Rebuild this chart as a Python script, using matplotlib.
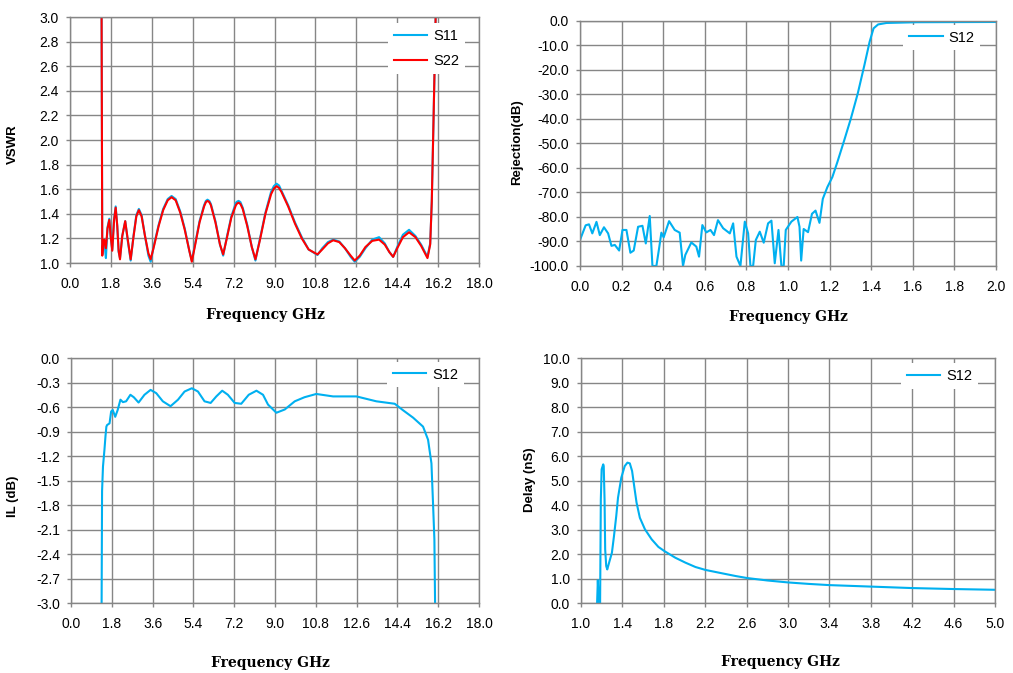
import numpy as np
import matplotlib
matplotlib.use("Agg")
import matplotlib.pyplot as plt

plt.rcParams['axes.unicode_minus'] = False

# VSWR (top left)
f_vswr = [1.39, 1.42, 1.46, 1.51, 1.55, 1.58, 1.65, 1.73, 1.79, 1.86,
          1.94, 2.01, 2.08, 2.14, 2.20, 2.30, 2.43, 2.55, 2.67, 2.80,
          2.92, 3.03, 3.15, 3.30, 3.45, 3.55, 3.70, 3.90, 4.10, 4.30,
          4.47, 4.65, 4.85, 5.05, 5.25, 5.36, 5.50, 5.70, 5.90, 5.98,
          6.05, 6.13, 6.20, 6.40, 6.60, 6.74, 6.90, 7.10, 7.30, 7.36,
          7.42, 7.50, 7.60, 7.80, 8.00, 8.16, 8.35, 8.60, 8.85, 8.97,
          9.09, 9.20, 9.30, 9.60, 9.90, 10.20, 10.50, 10.89, 11.10, 11.35,
          11.58, 11.85, 12.10, 12.35, 12.53, 12.75, 13.00, 13.30, 13.60, 13.85,
          14.05, 14.22, 14.40, 14.65, 14.92, 15.20, 15.45, 15.73, 15.85, 15.92,
          16.00, 16.09]
s11 = [3.00, 1.07, 1.16, 1.19, 1.10, 1.04, 1.29, 1.36, 1.21, 1.11,
       1.36, 1.46, 1.30, 1.09, 1.04, 1.22, 1.34, 1.17, 1.02, 1.23,
       1.39, 1.44, 1.39, 1.22, 1.06, 1.01, 1.15, 1.31, 1.44, 1.52,
       1.545, 1.52, 1.42, 1.28, 1.10, 1.02, 1.15, 1.34, 1.47, 1.505,
       1.515, 1.505, 1.48, 1.34, 1.15, 1.06, 1.21, 1.38, 1.49, 1.50,
       1.505, 1.495, 1.45, 1.31, 1.13, 1.02, 1.19, 1.41, 1.58, 1.625,
       1.645, 1.63, 1.59, 1.47, 1.33, 1.21, 1.11, 1.065, 1.12, 1.17,
       1.19, 1.175, 1.12, 1.05, 1.01, 1.05, 1.12, 1.19, 1.21, 1.16,
       1.09, 1.05, 1.13, 1.23, 1.27, 1.22, 1.15, 1.05, 1.16, 1.50,
       2.19, 3.00]
s22 = [3.00, 1.06, 1.17, 1.19, 1.14, 1.12, 1.28, 1.35, 1.22, 1.10,
       1.35, 1.45, 1.30, 1.10, 1.03, 1.22, 1.34, 1.18, 1.03, 1.22,
       1.38, 1.43, 1.38, 1.22, 1.08, 1.03, 1.14, 1.30, 1.43, 1.51,
       1.535, 1.51, 1.41, 1.27, 1.10, 1.01, 1.14, 1.33, 1.46, 1.495,
       1.505, 1.495, 1.47, 1.33, 1.15, 1.07, 1.20, 1.37, 1.47, 1.485,
       1.49, 1.48, 1.44, 1.30, 1.13, 1.03, 1.18, 1.40, 1.56, 1.605,
       1.625, 1.61, 1.58, 1.46, 1.32, 1.20, 1.11, 1.07, 1.11, 1.16,
       1.185, 1.17, 1.12, 1.06, 1.02, 1.06, 1.13, 1.18, 1.19, 1.15,
       1.09, 1.05, 1.12, 1.21, 1.25, 1.21, 1.14, 1.04, 1.15, 1.50,
       2.19, 3.00]

# Rejection (top right)
f_rej = [0.000, 0.006, 0.027, 0.043, 0.059, 0.079, 0.095, 0.115, 0.135, 0.151,
         0.167, 0.188, 0.204, 0.223, 0.242, 0.258, 0.279, 0.300, 0.316, 0.335,
         0.348, 0.367, 0.380, 0.391, 0.402, 0.428, 0.455, 0.479, 0.495, 0.506,
         0.535, 0.559, 0.572, 0.588, 0.607, 0.627, 0.644, 0.663, 0.688, 0.720,
         0.736, 0.752, 0.771, 0.792, 0.808, 0.819, 0.832, 0.845, 0.864, 0.883,
         0.904, 0.920, 0.936, 0.954, 0.968, 0.979, 0.989, 1.016, 1.045, 1.055,
         1.063, 1.075, 1.096, 1.115, 1.132, 1.151, 1.167, 1.189, 1.213, 1.237,
         1.270, 1.302, 1.335, 1.367, 1.392, 1.411, 1.433, 1.473, 1.620, 2.000]
rej = [-89.4, -88.0, -83.4, -83.0, -86.7, -82.0, -87.4, -84.2, -86.7, -91.8,
       -91.4, -93.7, -85.3, -85.3, -94.6, -93.7, -84.0, -83.6, -90.8, -79.6,
       -100.0, -100.0, -92.8, -86.4, -88.3, -81.7, -85.3, -86.4, -100.0, -95.5,
       -90.4, -92.1, -96.2, -83.3, -86.3, -85.3, -87.4, -81.3, -84.6, -86.7,
       -82.6, -96.2, -100.0, -81.9, -86.7, -100.0, -100.0, -89.4, -86.0, -90.5,
       -82.6, -81.5, -98.9, -85.3, -100.0, -100.0, -85.3, -81.9, -80.0, -84.0,
       -97.8, -84.9, -86.2, -78.7, -77.4, -82.4, -72.6, -67.8, -63.7, -57.6,
       -48.7, -39.8, -29.6, -18.0, -8.5, -3.0, -1.4, -0.8, -0.5, -0.4]

# Insertion loss (bottom left)
f_il = [1.35, 1.37, 1.41, 1.476, 1.52, 1.56, 1.594, 1.70, 1.77, 1.84,
        1.95, 2.06, 2.18, 2.29, 2.43, 2.62, 2.77, 2.98, 3.24, 3.51,
        3.76, 4.05, 4.39, 4.72, 5.01, 5.33, 5.60, 5.89, 6.16, 6.41,
        6.67, 6.92, 7.22, 7.51, 7.84, 8.18, 8.47, 8.69, 9.06, 9.43,
        9.87, 10.30, 10.82, 11.56, 12.59, 13.47, 14.28, 14.65, 15.09, 15.53,
        15.75, 15.90, 15.97, 16.03, 16.06]
il = [-3.00, -1.63, -1.33, -1.12, -0.96, -0.84, -0.82, -0.80, -0.655, -0.635,
      -0.72, -0.635, -0.51, -0.54, -0.53, -0.45, -0.48, -0.545, -0.45, -0.39,
      -0.43, -0.53, -0.59, -0.51, -0.41, -0.37, -0.41, -0.53, -0.55, -0.47,
      -0.40, -0.45, -0.55, -0.56, -0.45, -0.40, -0.45, -0.57, -0.67, -0.63,
      -0.53, -0.48, -0.44, -0.47, -0.47, -0.53, -0.56, -0.64, -0.73, -0.84,
      -1.00, -1.29, -1.78, -2.22, -3.00]

# Group delay (bottom right)
f_dly = [1.156, 1.163, 1.172, 1.185, 1.192, 1.200, 1.215, 1.220, 1.228, 1.234,
         1.244, 1.254, 1.276, 1.299, 1.319, 1.341, 1.358, 1.390, 1.423, 1.449,
         1.472, 1.494, 1.514, 1.537, 1.569, 1.618, 1.683, 1.748, 1.806, 1.911,
         2.008, 2.106, 2.203, 2.366, 2.496, 2.604, 2.800, 3.000, 3.200, 3.403,
         3.802, 4.198, 4.604, 5.000]
dly = [0.00, 0.93, 0.00, 0.00, 4.23, 5.46, 5.66, 5.59, 4.23, 2.19,
       1.51, 1.37, 1.71, 2.05, 2.73, 3.55, 4.30, 5.12, 5.59, 5.73,
       5.70, 5.39, 4.78, 4.10, 3.48, 3.01, 2.60, 2.29, 2.12, 1.85,
       1.65, 1.47, 1.35, 1.21, 1.10, 1.02, 0.92, 0.84, 0.78, 0.73,
       0.67, 0.61, 0.57, 0.54]

BLUE = '#00b0f0'
RED = '#ff0000'
GRID = '#868686'

fig = plt.figure(figsize=(10.13, 6.73), dpi=100)
ax1 = fig.add_axes([0.0691, 0.6092, 0.4038, 0.3655])
ax2 = fig.add_axes([0.5726, 0.6048, 0.4107, 0.3640])
ax3 = fig.add_axes([0.0701, 0.1040, 0.4028, 0.3640])
ax4 = fig.add_axes([0.5735, 0.1040, 0.4087, 0.3640])

tick_font = dict(family='Liberation Sans', size=10)
xlab_font = dict(family='DejaVu Serif', weight='bold', size=10)
ylab_font = dict(family='Liberation Sans', weight='bold', size=9.5)


def style(ax, xticks, yticks, legend_anchor):
    ax.set_xlim(xticks[0], xticks[-1])
    ax.set_ylim(yticks[0], yticks[-1])
    ax.set_xticks(xticks)
    ax.set_yticks(yticks)
    ax.set_xticklabels(['{:.1f}'.format(v) for v in xticks], **tick_font)
    ax.set_yticklabels(['{:.1f}'.format(v) for v in yticks], **tick_font)
    ax.grid(True, color=GRID, linewidth=1.0)
    ax.set_axisbelow(True)
    for s in ax.spines.values():
        s.set_color(GRID)
        s.set_linewidth(1.0)
    ax.tick_params(axis='both', direction='out', length=3, width=1, color=GRID)
    ax.tick_params(axis='x', pad=7)
    ax.tick_params(axis='y', pad=5)
    leg = ax.legend(loc='upper right', bbox_to_anchor=legend_anchor, borderaxespad=0,
                    frameon=True, fancybox=False, framealpha=1, edgecolor='none',
                    facecolor='white', handlelength=2.3, handletextpad=0.4,
                    labelspacing=0.75, prop=dict(family='Liberation Sans', size=10.5))
    return leg


ax1.plot(f_vswr, s11, color=BLUE, lw=1.5, label='S11')
ax1.plot(f_vswr, s22, color=RED, lw=1.5, label='S22')
style(ax1, np.round(np.arange(0, 18.01, 1.8), 1), np.round(np.arange(1.0, 3.01, 0.2), 1), (0.966, 0.975))
ax1.set_xlabel('Frequency GHz', va='center', **xlab_font)
ax1.xaxis.set_label_coords(0.477, -0.211)
ax1.set_ylabel('VSWR', va='center', **ylab_font)
ax1.yaxis.set_label_coords(-0.139, 0.484)

ax2.plot(f_rej, rej, color=BLUE, lw=1.5, label='S12')
style(ax2, np.round(np.arange(0, 2.001, 0.2), 1), np.round(np.arange(-100, 0.1, 10), 1), (0.962, 0.985))
ax2.set_xlabel('Frequency GHz', va='center', **xlab_font)
ax2.xaxis.set_label_coords(0.501, -0.208)
ax2.set_ylabel('Rejection(dB)', va='center', **ylab_font)
ax2.yaxis.set_label_coords(-0.151, 0.506)

ax3.plot(f_il, il, color=BLUE, lw=1.5, label='S12')
style(ax3, np.round(np.arange(0, 18.01, 1.8), 1), np.round(np.arange(-3.0, 0.01, 0.3), 1) + 0.0, (0.963, 0.985))
ax3.set_xlabel('Frequency GHz', va='center', **xlab_font)
ax3.xaxis.set_label_coords(0.488, -0.245)
ax3.set_ylabel('IL (dB)', va='center', **ylab_font)
ax3.yaxis.set_label_coords(-0.142, 0.437)

ax4.plot(f_dly, dly, color=BLUE, lw=1.5, label='S12')
style(ax4, np.round(np.arange(1.0, 5.001, 0.4), 1), np.round(np.arange(0, 10.01, 1.0), 1), (0.959, 0.98))
ax4.set_xlabel('Frequency GHz', va='center', **xlab_font)
ax4.xaxis.set_label_coords(0.481, -0.241)
ax4.set_ylabel('Delay (nS)', va='center', **ylab_font)
ax4.yaxis.set_label_coords(-0.123, 0.502)

fig.savefig('out.png', dpi=100)
